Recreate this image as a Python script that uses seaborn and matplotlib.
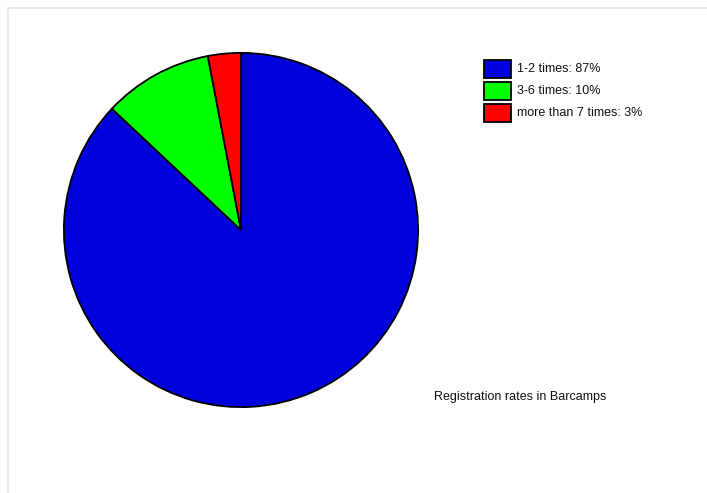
import matplotlib
matplotlib.use("Agg")
import matplotlib.pyplot as plt
from matplotlib.patches import Rectangle
from matplotlib.lines import Line2D
import seaborn as sns

categories = ["1-2 times", "3-6 times", "more than 7 times"]
values = [87, 10, 3]
colors = ["#0000DD", "#00FF00", "#FF0000"]
title = "Registration rates in Barcamps"

sns.set_theme(style="white")
plt.rcParams["font.family"] = ["Liberation Sans", "DejaVu Sans"]

W, H = 707, 493
fig = plt.figure(figsize=(W / 100, H / 100), dpi=100)
fig.patch.set_facecolor("white")

cx, cy, r = 241, 230, 178
ax = fig.add_axes([(cx - r) / W, (H - cy - r) / H, 2 * r / W, 2 * r / H])
ax.pie(values, colors=colors, startangle=90, counterclock=False,
       wedgeprops=dict(edgecolor="black", linewidth=1.3))
ax.set_xlim(-1.005, 1.005)
ax.set_ylim(-1.005, 1.005)
ax.set_aspect("equal")
ax.axis("off")

# light frame lines
fig.add_artist(Line2D([7.5 / W, 1], [1 - 7.5 / H, 1 - 7.5 / H], color="#e6e6e6", lw=1.2))
fig.add_artist(Line2D([7.5 / W, 7.5 / W], [0, 1 - 7.5 / H], color="#e6e6e6", lw=1.2))

# legend
bx, bw, bh = 484, 27, 18
y0, step = 60, 22
for i, (c, v, col) in enumerate(zip(categories, values, colors)):
    top = y0 + i * step
    fig.add_artist(Rectangle((bx / W, (H - top - bh) / H), bw / W, bh / H,
                             facecolor=col, edgecolor="black", lw=1.3,
                             transform=fig.transFigure))
    fig.text(517 / W, (H - top - bh / 2) / H, f"{c}: {v}%", fontsize=9,
             va="center", ha="left", color="#111111")

fig.text(434 / W, (H - 397) / H, title, fontsize=9, va="center", ha="left",
         color="#111111")

fig.savefig("out.png", dpi=100, facecolor="white")
